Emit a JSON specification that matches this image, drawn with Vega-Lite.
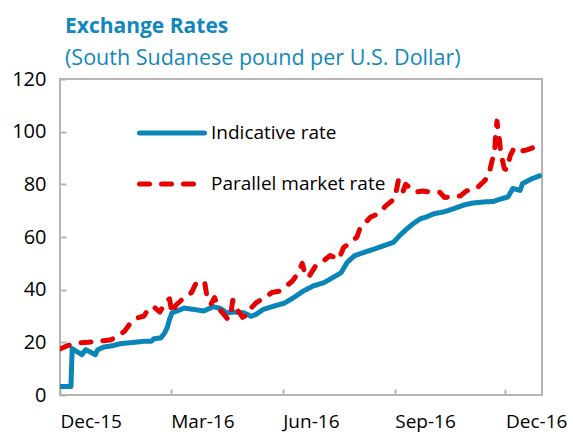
{
  "$schema": "https://vega.github.io/schema/vega-lite/v6.json",
  "width": 482,
  "height": 316,
  "autosize": {"type": "none"},
  "padding": {"left": 60, "top": 79, "right": 31, "bottom": 39},
  "config": {
    "font": "Open Sans",
    "view": {"stroke": "#b4b4b4", "strokeWidth": 2},
    "axis": {"grid": false, "domain": false, "tickColor": "#b4b4b4", "tickWidth": 2, "labelColor": "#000000", "labelFontSize": 20, "labelFont": "Open Sans"}
  },
  "title": {
    "text": "Exchange Rates",
    "subtitle": "(South Sudanese pound per U.S. Dollar)",
    "anchor": "start",
    "frame": "group",
    "dx": 5,
    "offset": 0,
    "color": "#1287bd",
    "subtitleColor": "#1287bd",
    "fontSize": 21,
    "fontWeight": "bold",
    "subtitleFontSize": 21.5,
    "subtitlePadding": 11,
    "font": "Open Sans",
    "subtitleFont": "Open Sans"
  },
  "data": {
    "values": [
      {"d": "2015-12-01", "s": "Indicative rate", "v": 3.2},
      {"d": "2015-12-10", "s": "Indicative rate", "v": 3.2},
      {"d": "2015-12-11", "s": "Indicative rate", "v": 17.6},
      {"d": "2015-12-19", "s": "Indicative rate", "v": 15.3},
      {"d": "2015-12-22", "s": "Indicative rate", "v": 17.2},
      {"d": "2015-12-24", "s": "Indicative rate", "v": 16.8},
      {"d": "2015-12-30", "s": "Indicative rate", "v": 15.3},
      {"d": "2016-01-01", "s": "Indicative rate", "v": 17.2},
      {"d": "2016-01-06", "s": "Indicative rate", "v": 18.2},
      {"d": "2016-01-13", "s": "Indicative rate", "v": 18.7},
      {"d": "2016-01-20", "s": "Indicative rate", "v": 19.5},
      {"d": "2016-01-31", "s": "Indicative rate", "v": 20.0},
      {"d": "2016-02-08", "s": "Indicative rate", "v": 20.4},
      {"d": "2016-02-14", "s": "Indicative rate", "v": 20.4},
      {"d": "2016-02-16", "s": "Indicative rate", "v": 21.3},
      {"d": "2016-02-22", "s": "Indicative rate", "v": 21.7},
      {"d": "2016-02-25", "s": "Indicative rate", "v": 23.6},
      {"d": "2016-02-27", "s": "Indicative rate", "v": 25.5},
      {"d": "2016-02-29", "s": "Indicative rate", "v": 28.7},
      {"d": "2016-03-02", "s": "Indicative rate", "v": 31.2},
      {"d": "2016-03-06", "s": "Indicative rate", "v": 31.9},
      {"d": "2016-03-12", "s": "Indicative rate", "v": 33.0},
      {"d": "2016-03-20", "s": "Indicative rate", "v": 32.5},
      {"d": "2016-03-28", "s": "Indicative rate", "v": 31.9},
      {"d": "2016-04-05", "s": "Indicative rate", "v": 33.5},
      {"d": "2016-04-11", "s": "Indicative rate", "v": 32.8},
      {"d": "2016-04-16", "s": "Indicative rate", "v": 31.2},
      {"d": "2016-04-22", "s": "Indicative rate", "v": 31.5},
      {"d": "2016-04-30", "s": "Indicative rate", "v": 31.2},
      {"d": "2016-05-06", "s": "Indicative rate", "v": 29.9},
      {"d": "2016-05-10", "s": "Indicative rate", "v": 30.6},
      {"d": "2016-05-16", "s": "Indicative rate", "v": 32.5},
      {"d": "2016-05-25", "s": "Indicative rate", "v": 33.8},
      {"d": "2016-06-02", "s": "Indicative rate", "v": 34.8},
      {"d": "2016-06-10", "s": "Indicative rate", "v": 37.0},
      {"d": "2016-06-18", "s": "Indicative rate", "v": 39.5},
      {"d": "2016-06-26", "s": "Indicative rate", "v": 41.4},
      {"d": "2016-07-05", "s": "Indicative rate", "v": 42.7},
      {"d": "2016-07-13", "s": "Indicative rate", "v": 44.8},
      {"d": "2016-07-19", "s": "Indicative rate", "v": 46.5},
      {"d": "2016-07-24", "s": "Indicative rate", "v": 50.4},
      {"d": "2016-07-30", "s": "Indicative rate", "v": 52.9},
      {"d": "2016-08-07", "s": "Indicative rate", "v": 54.2},
      {"d": "2016-08-15", "s": "Indicative rate", "v": 55.4},
      {"d": "2016-08-23", "s": "Indicative rate", "v": 56.7},
      {"d": "2016-08-31", "s": "Indicative rate", "v": 58.0},
      {"d": "2016-09-05", "s": "Indicative rate", "v": 60.5},
      {"d": "2016-09-11", "s": "Indicative rate", "v": 63.1},
      {"d": "2016-09-16", "s": "Indicative rate", "v": 65.0},
      {"d": "2016-09-22", "s": "Indicative rate", "v": 66.9},
      {"d": "2016-09-27", "s": "Indicative rate", "v": 67.6},
      {"d": "2016-10-03", "s": "Indicative rate", "v": 68.8},
      {"d": "2016-10-11", "s": "Indicative rate", "v": 69.5},
      {"d": "2016-10-19", "s": "Indicative rate", "v": 70.7},
      {"d": "2016-10-27", "s": "Indicative rate", "v": 72.0},
      {"d": "2016-11-04", "s": "Indicative rate", "v": 72.9},
      {"d": "2016-11-13", "s": "Indicative rate", "v": 73.3},
      {"d": "2016-11-21", "s": "Indicative rate", "v": 73.5},
      {"d": "2016-11-26", "s": "Indicative rate", "v": 74.3},
      {"d": "2016-12-03", "s": "Indicative rate", "v": 75.2},
      {"d": "2016-12-07", "s": "Indicative rate", "v": 78.4},
      {"d": "2016-12-13", "s": "Indicative rate", "v": 77.7},
      {"d": "2016-12-15", "s": "Indicative rate", "v": 80.3},
      {"d": "2016-12-23", "s": "Indicative rate", "v": 82.2},
      {"d": "2016-12-29", "s": "Indicative rate", "v": 83.2},
      {"d": "2015-12-01", "s": "Parallel market rate", "v": 17.5},
      {"d": "2015-12-07", "s": "Parallel market rate", "v": 18.7},
      {"d": "2015-12-16", "s": "Parallel market rate", "v": 19.8},
      {"d": "2015-12-24", "s": "Parallel market rate", "v": 20.0},
      {"d": "2015-12-30", "s": "Parallel market rate", "v": 20.4},
      {"d": "2016-01-06", "s": "Parallel market rate", "v": 20.6},
      {"d": "2016-01-12", "s": "Parallel market rate", "v": 21.0},
      {"d": "2016-01-17", "s": "Parallel market rate", "v": 22.3},
      {"d": "2016-01-23", "s": "Parallel market rate", "v": 24.2},
      {"d": "2016-01-29", "s": "Parallel market rate", "v": 28.0},
      {"d": "2016-02-03", "s": "Parallel market rate", "v": 29.3},
      {"d": "2016-02-08", "s": "Parallel market rate", "v": 30.0},
      {"d": "2016-02-12", "s": "Parallel market rate", "v": 33.0},
      {"d": "2016-02-16", "s": "Parallel market rate", "v": 33.5},
      {"d": "2016-02-21", "s": "Parallel market rate", "v": 31.5},
      {"d": "2016-02-23", "s": "Parallel market rate", "v": 33.0},
      {"d": "2016-02-27", "s": "Parallel market rate", "v": 36.0},
      {"d": "2016-02-29", "s": "Parallel market rate", "v": 36.5},
      {"d": "2016-03-02", "s": "Parallel market rate", "v": 31.0},
      {"d": "2016-03-05", "s": "Parallel market rate", "v": 34.0},
      {"d": "2016-03-12", "s": "Parallel market rate", "v": 37.0},
      {"d": "2016-03-18", "s": "Parallel market rate", "v": 38.9},
      {"d": "2016-03-22", "s": "Parallel market rate", "v": 42.7},
      {"d": "2016-03-26", "s": "Parallel market rate", "v": 43.3},
      {"d": "2016-03-29", "s": "Parallel market rate", "v": 42.5},
      {"d": "2016-03-31", "s": "Parallel market rate", "v": 36.5},
      {"d": "2016-04-03", "s": "Parallel market rate", "v": 34.5},
      {"d": "2016-04-06", "s": "Parallel market rate", "v": 37.0},
      {"d": "2016-04-09", "s": "Parallel market rate", "v": 33.0},
      {"d": "2016-04-13", "s": "Parallel market rate", "v": 31.0},
      {"d": "2016-04-17", "s": "Parallel market rate", "v": 28.7},
      {"d": "2016-04-19", "s": "Parallel market rate", "v": 30.0},
      {"d": "2016-04-21", "s": "Parallel market rate", "v": 36.0},
      {"d": "2016-04-23", "s": "Parallel market rate", "v": 33.0},
      {"d": "2016-04-27", "s": "Parallel market rate", "v": 31.0},
      {"d": "2016-04-29", "s": "Parallel market rate", "v": 29.5},
      {"d": "2016-05-03", "s": "Parallel market rate", "v": 30.5},
      {"d": "2016-05-06", "s": "Parallel market rate", "v": 33.0},
      {"d": "2016-05-10", "s": "Parallel market rate", "v": 35.0},
      {"d": "2016-05-17", "s": "Parallel market rate", "v": 37.0},
      {"d": "2016-05-23", "s": "Parallel market rate", "v": 38.9},
      {"d": "2016-05-30", "s": "Parallel market rate", "v": 39.5},
      {"d": "2016-06-04", "s": "Parallel market rate", "v": 41.4},
      {"d": "2016-06-09", "s": "Parallel market rate", "v": 43.3},
      {"d": "2016-06-14", "s": "Parallel market rate", "v": 46.5},
      {"d": "2016-06-17", "s": "Parallel market rate", "v": 50.0},
      {"d": "2016-06-19", "s": "Parallel market rate", "v": 46.5},
      {"d": "2016-06-22", "s": "Parallel market rate", "v": 44.6},
      {"d": "2016-06-28", "s": "Parallel market rate", "v": 49.0},
      {"d": "2016-07-03", "s": "Parallel market rate", "v": 50.4},
      {"d": "2016-07-10", "s": "Parallel market rate", "v": 53.0},
      {"d": "2016-07-17", "s": "Parallel market rate", "v": 51.5},
      {"d": "2016-07-21", "s": "Parallel market rate", "v": 56.0},
      {"d": "2016-07-27", "s": "Parallel market rate", "v": 58.0},
      {"d": "2016-08-01", "s": "Parallel market rate", "v": 60.0},
      {"d": "2016-08-04", "s": "Parallel market rate", "v": 64.0},
      {"d": "2016-08-08", "s": "Parallel market rate", "v": 65.5},
      {"d": "2016-08-12", "s": "Parallel market rate", "v": 67.5},
      {"d": "2016-08-19", "s": "Parallel market rate", "v": 69.0},
      {"d": "2016-08-25", "s": "Parallel market rate", "v": 72.0},
      {"d": "2016-09-01", "s": "Parallel market rate", "v": 74.6},
      {"d": "2016-09-04", "s": "Parallel market rate", "v": 81.5},
      {"d": "2016-09-06", "s": "Parallel market rate", "v": 79.0},
      {"d": "2016-09-08", "s": "Parallel market rate", "v": 77.5},
      {"d": "2016-09-10", "s": "Parallel market rate", "v": 80.0},
      {"d": "2016-09-14", "s": "Parallel market rate", "v": 78.5},
      {"d": "2016-09-18", "s": "Parallel market rate", "v": 77.0},
      {"d": "2016-09-24", "s": "Parallel market rate", "v": 77.5},
      {"d": "2016-10-01", "s": "Parallel market rate", "v": 77.0},
      {"d": "2016-10-08", "s": "Parallel market rate", "v": 77.0},
      {"d": "2016-10-12", "s": "Parallel market rate", "v": 75.0},
      {"d": "2016-10-17", "s": "Parallel market rate", "v": 75.3},
      {"d": "2016-10-25", "s": "Parallel market rate", "v": 75.6},
      {"d": "2016-10-30", "s": "Parallel market rate", "v": 77.5},
      {"d": "2016-11-07", "s": "Parallel market rate", "v": 78.4},
      {"d": "2016-11-13", "s": "Parallel market rate", "v": 81.0},
      {"d": "2016-11-17", "s": "Parallel market rate", "v": 83.0},
      {"d": "2016-11-20", "s": "Parallel market rate", "v": 89.0},
      {"d": "2016-11-22", "s": "Parallel market rate", "v": 92.0},
      {"d": "2016-11-23", "s": "Parallel market rate", "v": 99.0},
      {"d": "2016-11-24", "s": "Parallel market rate", "v": 104.0},
      {"d": "2016-11-26", "s": "Parallel market rate", "v": 97.0},
      {"d": "2016-11-27", "s": "Parallel market rate", "v": 92.5},
      {"d": "2016-11-30", "s": "Parallel market rate", "v": 86.0},
      {"d": "2016-12-02", "s": "Parallel market rate", "v": 85.5},
      {"d": "2016-12-05", "s": "Parallel market rate", "v": 91.0},
      {"d": "2016-12-08", "s": "Parallel market rate", "v": 93.7},
      {"d": "2016-12-12", "s": "Parallel market rate", "v": 92.5},
      {"d": "2016-12-18", "s": "Parallel market rate", "v": 93.0},
      {"d": "2016-12-24", "s": "Parallel market rate", "v": 94.0},
      {"d": "2016-12-30", "s": "Parallel market rate", "v": 96.0}
    ]
  },
  "mark": {"type": "line", "strokeWidth": 5, "strokeCap": "round", "strokeJoin": "round", "clip": true},
  "encoding": {
    "x": {
      "field": "d",
      "type": "temporal",
      "scale": {"type": "utc", "domain": [{"year": 2015, "month": 12, "date": 1, "utc": true}, {"year": 2016, "month": 12, "date": 31, "utc": true}]},
      "axis": {
        "title": null,
        "values": [
          {"year": 2015, "month": 12, "date": 1, "utc": true},
          {"year": 2016, "month": 3, "date": 1, "utc": true},
          {"year": 2016, "month": 6, "date": 1, "utc": true},
          {"year": 2016, "month": 9, "date": 1, "utc": true},
          {"year": 2016, "month": 12, "date": 1, "utc": true}
        ],
        "format": "%b-%y",
        "labelAlign": "left",
        "labelFlush": false,
        "labelOverlap": false,
        "labelFontSize": 19,
        "tickSize": -6,
        "labelPadding": 23
      }
    },
    "y": {
      "field": "v",
      "type": "quantitative",
      "scale": {"domain": [0, 120], "nice": false},
      "axis": {"title": null, "values": [0, 20, 40, 60, 80, 100, 120], "tickSize": -6, "labelPadding": 20}
    },
    "color": {
      "field": "s",
      "type": "nominal",
      "scale": {"domain": ["Indicative rate", "Parallel market rate"], "range": ["#0a85b7", "#e60000"]},
      "legend": {
        "title": null,
        "orient": "none",
        "legendX": 77,
        "legendY": 44,
        "symbolType": "stroke",
        "symbolSize": 4225,
        "symbolStrokeWidth": 5,
        "clipHeight": 20,
        "rowPadding": 31,
        "labelFontSize": 19,
        "labelColor": "#000000",
        "labelOffset": 4,
        "labelLimit": 400,
        "labelFont": "Open Sans",
        "encode": {"symbols": {"update": {"strokeCap": {"value": "round"}}}}
      }
    },
    "strokeDash": {
      "field": "s",
      "type": "nominal",
      "scale": {"domain": ["Indicative rate", "Parallel market rate"], "range": [[1, 0], [10, 12]]},
      "legend": {
        "title": null,
        "orient": "none",
        "legendX": 77,
        "legendY": 44,
        "symbolType": "stroke",
        "symbolSize": 4225,
        "symbolStrokeWidth": 5,
        "clipHeight": 20,
        "rowPadding": 31,
        "labelFontSize": 19,
        "labelColor": "#000000",
        "labelOffset": 4,
        "labelLimit": 400,
        "labelFont": "Open Sans",
        "encode": {"symbols": {"update": {"strokeCap": {"value": "round"}}}}
      }
    }
  }
}
